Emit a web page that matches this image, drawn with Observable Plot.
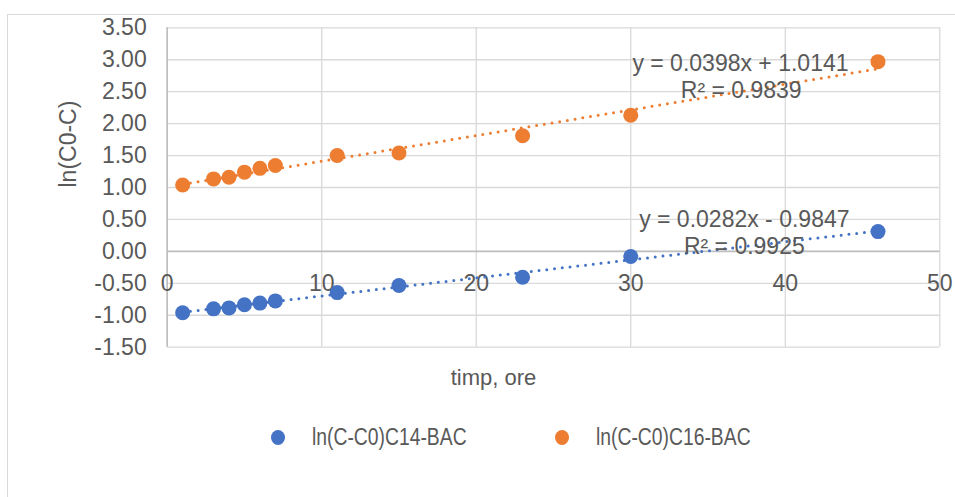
<!DOCTYPE html>
<html><head><meta charset="utf-8">
<script src="https://cdn.jsdelivr.net/npm/d3@7"></script>
<script src="https://cdn.jsdelivr.net/npm/@observablehq/plot@0.6"></script>
<style>
body{margin:0;background:#fff;font-family:"Liberation Sans",Arial,sans-serif;}
#wrap{position:relative;width:955px;height:497px;overflow:hidden;background:#fff}
#border{position:absolute;left:7px;top:14px;width:970px;height:510px;border:1.5px solid #d9d9d9;box-sizing:border-box}
#chart{position:absolute;left:0;top:0}
#legend{position:absolute;top:423px;left:0;width:955px;height:28px;font-size:23px;color:#595959}
.item{position:absolute;top:0;height:28px;display:flex;align-items:center}
.sw{width:14px;height:15px;border-radius:50%;margin-right:27px}
.lt{display:inline-block;transform:scaleX(0.84);transform-origin:left center;white-space:nowrap}
</style>
</head><body>
<div id="wrap"><div id="border"></div><div id="chart"></div><div id="legend"></div></div>
<script>
// data
const timp = [1, 3, 4, 5, 6, 7, 11, 15, 23, 30, 46];
const c14 = [-0.96, -0.90, -0.885, -0.835, -0.81, -0.775, -0.645, -0.535, -0.405, -0.08, 0.31];
const c16 = [1.04, 1.135, 1.16, 1.24, 1.30, 1.345, 1.50, 1.54, 1.81, 2.13, 2.97];
const seriesNames = ["ln(C-C0)C14-BAC", "ln(C-C0)C16-BAC"];
const seriesColors = ["#4472C4", "#ED7D31"];
const slopes = [0.0282, 0.0398];
const intercepts = [-0.9847, 1.0141];
const r2 = [0.9925, 0.9839];
const xTicks = [0, 10, 20, 30, 40, 50];
const yTicks = [-1.5, -1, -0.5, 0, 0.5, 1, 1.5, 2, 2.5, 3, 3.5];
const xLabel = "timp, ore";
const yLabel = "ln(C0-C)";

const rows = [];
timp.forEach((t, i) => {
  rows.push({x: t, y: c14[i], s: seriesNames[0]});
  rows.push({x: t, y: c16[i], s: seriesNames[1]});
});
const eqText = i => `y = ${slopes[i]}x ${intercepts[i] < 0 ? "-" : "+"} ${Math.abs(intercepts[i])}`;
const r2Text = i => `R² = ${r2[i]}`;

const txt = "#595959";
const fs = 23;
const plot = Plot.plot({
  width: 955, height: 400,
  marginLeft: 166.7, marginRight: 15.7, marginTop: 27.3, marginBottom: 53.3,
  style: {fontFamily: '"Liberation Sans", Arial, sans-serif', background: "transparent"},
  x: {domain: [0, 50], axis: null},
  y: {domain: [-1.5, 3.5], axis: null},
  color: {domain: seriesNames, range: seriesColors},
  marks: [
    Plot.gridY(yTicks, {stroke: "#d9d9d9", strokeOpacity: 1, strokeWidth: 1.3}),
    Plot.gridX(xTicks, {stroke: "#d9d9d9", strokeOpacity: 1, strokeWidth: 1.3}),
    Plot.ruleX([0], {stroke: "#bfbfbf", strokeWidth: 1.6}),
    Plot.ruleY([0], {stroke: "#bfbfbf", strokeWidth: 1.6}),
    Plot.axisY(yTicks, {tickFormat: d => d.toFixed(2), tickSize: 0, tickPadding: 20.5, fontSize: fs, color: txt, label: null}),
    Plot.text(xTicks, {x: d => d, y: 0, dy: 32, text: d => String(d), fontSize: fs, fill: txt}),
    Plot.dot(rows, {x: "x", y: "y", fill: "s", r: 7.5}),
    Plot.linearRegressionY(rows, {x: "x", y: "y", stroke: "s", z: "s", ci: 0, strokeWidth: 3, strokeDasharray: "0 7.8", strokeLinecap: "round"}),
    Plot.text([eqText(1)], {x: 37.1, y: 2.94, fontSize: fs, fill: txt}),
    Plot.text([r2Text(1)], {x: 37.15, y: 2.52, fontSize: fs, fill: txt}),
    Plot.text([eqText(0)], {x: 37.35, y: 0.50, fontSize: fs, fill: txt}),
    Plot.text([r2Text(0)], {x: 37.35, y: 0.08, fontSize: fs, fill: txt}),
    Plot.text([yLabel], {frameAnchor: "left", dx: -99, rotate: -90, fontSize: fs, fill: txt}),
    Plot.text([xLabel], {frameAnchor: "bottom", dx: -60, dy: 38, fontSize: 22, fill: txt})
  ]
});
document.getElementById("chart").appendChild(plot);

const legend = document.getElementById("legend");
const lefts = [271, 555];
seriesNames.forEach((n, i) => {
  const it = document.createElement("div");
  it.className = "item";
  it.style.left = lefts[i] + "px";
  const sw = document.createElement("span");
  sw.className = "sw";
  sw.style.background = seriesColors[i];
  const t = document.createElement("span");
  t.className = "lt";
  t.textContent = n;
  it.appendChild(sw); it.appendChild(t);
  legend.appendChild(it);
});
</script>
</body></html>
